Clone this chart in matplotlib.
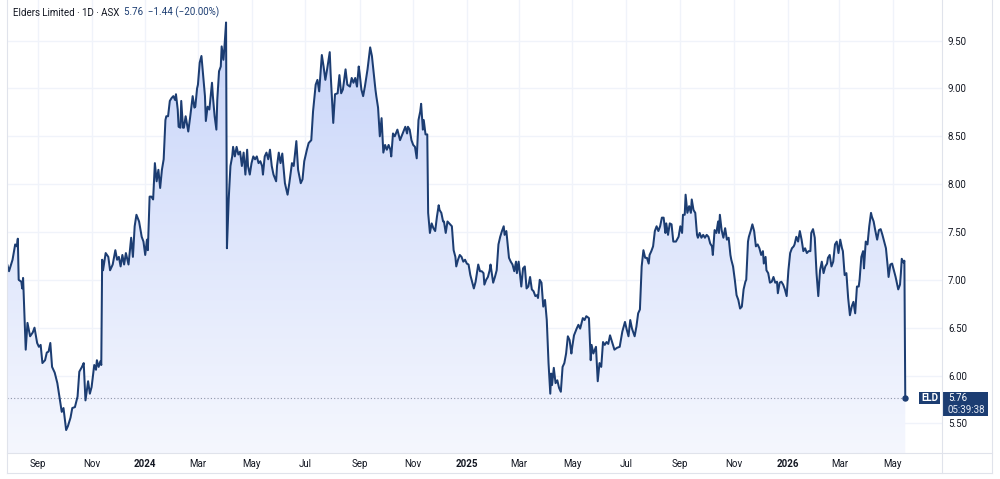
import numpy as np
import pandas as pd
import matplotlib
matplotlib.use("Agg")
import matplotlib.pyplot as plt
import matplotlib.dates as mdates
from matplotlib.patches import Polygon, Rectangle
from matplotlib.lines import Line2D
from matplotlib.colors import LinearSegmentedColormap

plt.rcParams['font.family'] = ['Roboto', 'DejaVu Sans']

# ---------------- data ----------------
start_date = '2023-09-01'
day_offsets = [
    -35, -33, -29, -26, -24, -23, -22, -19, -18, -17,
    -14, -12, -9, -6, -4, -1, 1, 3, 5, 8,
    10, 12, 14, 16, 19, 22, 25, 27, 29, 32,
    34, 37, 39, 42, 45, 47, 50, 52, 54, 57,
    59, 61, 64, 66, 67, 69, 71, 72, 73, 74,
    77, 80, 82, 85, 88, 90, 92, 94, 96, 98,
    100, 103, 106, 108, 110, 112, 115, 118, 120, 122,
    124, 125, 127, 129, 131, 133, 135, 137, 139, 141,
    143, 145, 146, 148, 150, 152, 154, 156, 157, 159,
    160, 162, 163, 165, 166, 168, 171, 173, 176, 178,
    179, 181, 182, 184, 186, 188, 190, 191, 193, 195,
    198, 199, 201, 203, 204, 206, 208, 209, 211, 212,
    214, 215, 217, 219, 221, 222, 224, 226, 228, 230,
    232, 234, 236, 238, 239, 241, 243, 245, 247, 249,
    251, 253, 255, 256, 258, 260, 262, 264, 266, 268,
    271, 272, 274, 276, 278, 281, 284, 286, 289, 291,
    294, 296, 299, 301, 303, 306, 308, 311, 313, 316,
    318, 320, 323, 325, 327, 329, 332, 333, 336, 338,
    341, 343, 345, 347, 350, 352, 355, 357, 359, 361,
    363, 365, 366, 368, 370, 372, 375, 378, 380, 382,
    384, 385, 387, 389, 391, 393, 395, 397, 399, 401,
    402, 404, 406, 409, 412, 415, 418, 420, 421, 423,
    425, 427, 429, 431, 433, 435, 436, 438, 439, 441,
    443, 444, 446, 448, 450, 452, 454, 456, 457, 459,
    461, 462, 464, 466, 469, 471, 473, 475, 476, 478,
    480, 482, 484, 486, 488, 490, 492, 494, 496, 498,
    501, 503, 505, 507, 508, 510, 512, 514, 515, 517,
    518, 520, 522, 524, 526, 528, 530, 531, 533, 534,
    536, 538, 540, 542, 544, 545, 547, 549, 550, 552,
    554, 556, 558, 560, 562, 564, 566, 568, 569, 571,
    573, 575, 577, 579, 581, 583, 584, 585, 587, 589,
    591, 593, 595, 597, 599, 601, 603, 605, 607, 608,
    610, 613, 615, 617, 620, 622, 624, 627, 629, 630,
    632, 635, 637, 639, 641, 643, 645, 647, 649, 651,
    654, 656, 659, 662, 665, 668, 670, 672, 674, 676,
    679, 681, 683, 685, 687, 689, 691, 693, 695, 696,
    698, 700, 702, 704, 706, 708, 710, 712, 714, 715,
    717, 719, 721, 723, 726, 729, 731, 733, 734, 736,
    737, 739, 741, 743, 744, 746, 748, 750, 751, 753,
    755, 757, 759, 761, 763, 765, 767, 768, 770, 772,
    774, 775, 776, 778, 780, 782, 784, 786, 788, 789,
    791, 793, 795, 797, 799, 801, 803, 805, 806, 808,
    809, 811, 813, 815, 817, 819, 821, 823, 825, 826,
    828, 829, 831, 833, 835, 837, 839, 841, 842, 844,
    846, 848, 850, 852, 854, 856, 858, 860, 861, 863,
    865, 867, 869, 871, 873, 875, 877, 879, 880, 882,
    884, 886, 888, 890, 892, 894, 896, 898, 899, 901,
    903, 905, 907, 909, 911, 913, 915, 916, 918, 920,
    922, 924, 926, 928, 930, 932, 934, 935, 937, 939,
    940, 942, 944, 946, 948, 949, 951, 953, 955, 957,
    959, 961, 963, 965, 967, 968, 970, 972, 974, 976,
    979, 981, 982, 983, 985, 986, 987,
]
close_prices = [
    7.16, 7.09, 7.21, 7.37, 7.35, 7.43, 7.00, 6.98, 6.91, 7.02,
    6.27, 6.55, 6.41, 6.45, 6.50, 6.34, 6.30, 6.32, 6.13, 6.16,
    6.24, 6.25, 6.34, 6.09, 6.03, 5.92, 5.74, 5.62, 5.66, 5.43,
    5.47, 5.56, 5.66, 5.67, 5.78, 6.04, 6.09, 6.13, 5.74, 5.94,
    5.81, 5.88, 6.11, 6.06, 6.16, 6.09, 6.15, 6.11, 7.21, 7.10,
    7.28, 7.24, 7.10, 7.16, 7.31, 7.21, 7.24, 7.14, 7.26, 7.16,
    7.28, 7.16, 7.44, 7.24, 7.56, 7.68, 7.61, 7.45, 7.40, 7.26,
    7.42, 7.31, 7.87, 7.87, 7.84, 8.22, 8.03, 8.15, 7.96, 8.15,
    8.26, 8.67, 8.71, 8.71, 8.87, 8.90, 8.92, 8.88, 8.94, 8.78,
    8.60, 8.59, 8.87, 8.59, 8.59, 8.71, 8.55, 8.69, 8.92, 8.80,
    8.81, 9.00, 9.04, 9.27, 9.34, 9.13, 8.92, 8.66, 8.81, 8.78,
    9.06, 8.92, 8.71, 8.57, 8.88, 9.18, 9.23, 9.44, 9.30, 9.41,
    9.69, 7.33, 7.84, 8.19, 8.29, 8.39, 8.29, 8.39, 8.31, 8.34,
    8.19, 8.33, 8.10, 8.36, 8.19, 8.10, 8.22, 8.29, 8.26, 8.29,
    8.22, 8.24, 8.19, 8.10, 8.29, 8.33, 8.26, 8.36, 8.19, 8.10,
    8.03, 8.19, 8.33, 8.22, 8.32, 8.01, 7.89, 8.01, 8.22, 8.19,
    8.45, 8.15, 8.01, 8.05, 8.24, 8.36, 8.43, 8.46, 8.76, 9.04,
    9.09, 8.97, 9.35, 9.23, 9.09, 9.20, 9.38, 9.16, 8.64, 8.94,
    8.95, 9.14, 8.95, 8.99, 9.20, 9.04, 9.02, 9.11, 9.06, 9.11,
    9.02, 9.23, 9.16, 8.99, 8.92, 9.02, 9.20, 9.43, 9.34, 9.16,
    8.99, 8.92, 8.80, 8.50, 8.69, 8.33, 8.41, 8.36, 8.41, 8.36,
    8.29, 8.53, 8.50, 8.57, 8.46, 8.53, 8.60, 8.53, 8.60, 8.57,
    8.46, 8.41, 8.39, 8.27, 8.67, 8.76, 8.84, 8.57, 8.67, 8.52,
    8.52, 7.70, 7.49, 7.59, 7.54, 7.51, 7.66, 7.78, 7.73, 7.70,
    7.61, 7.61, 7.49, 7.61, 7.58, 7.56, 7.31, 7.24, 7.14, 7.21,
    7.26, 7.24, 7.19, 7.21, 7.17, 7.16, 7.05, 6.98, 6.91, 6.98,
    7.16, 7.09, 7.09, 7.07, 6.95, 7.00, 7.03, 7.10, 7.16, 7.03,
    6.97, 7.03, 7.10, 7.37, 7.45, 7.51, 7.56, 7.47, 7.51, 7.42,
    7.23, 7.19, 7.16, 7.09, 7.19, 7.07, 7.19, 7.02, 6.93, 7.12,
    7.14, 6.91, 6.93, 7.03, 6.90, 6.88, 6.83, 6.84, 6.81, 7.00,
    6.97, 6.72, 6.79, 6.58, 6.13, 5.81, 6.02, 5.90, 6.08, 5.92,
    5.95, 5.87, 5.83, 6.09, 6.13, 6.23, 6.41, 6.37, 6.23, 6.30,
    6.42, 6.49, 6.53, 6.49, 6.60, 6.58, 6.62, 6.60, 6.16, 6.32,
    6.23, 6.30, 5.94, 6.13, 6.09, 6.35, 6.32, 6.35, 6.33, 6.42,
    6.33, 6.27, 6.29, 6.30, 6.46, 6.56, 6.48, 6.41, 6.58, 6.49,
    6.41, 6.51, 6.65, 6.69, 7.14, 7.31, 7.23, 7.23, 7.17, 7.26,
    7.30, 7.35, 7.51, 7.56, 7.51, 7.56, 7.65, 7.65, 7.49, 7.59,
    7.47, 7.59, 7.58, 7.40, 7.40, 7.45, 7.56, 7.49, 7.68, 7.68,
    7.89, 7.70, 7.77, 7.70, 7.84, 7.73, 7.70, 7.47, 7.44, 7.49,
    7.44, 7.47, 7.44, 7.47, 7.45, 7.38, 7.35, 7.26, 7.52, 7.49,
    7.61, 7.49, 7.68, 7.52, 7.44, 7.54, 7.42, 7.44, 7.26, 7.21,
    7.14, 7.00, 6.84, 6.79, 6.70, 6.72, 6.90, 6.98, 7.00, 7.40,
    7.45, 7.51, 7.58, 7.51, 7.35, 7.37, 7.33, 7.26, 7.30, 7.17,
    7.24, 7.10, 7.07, 6.97, 6.98, 7.03, 6.97, 6.98, 6.86, 6.97,
    6.98, 6.95, 6.90, 6.83, 7.10, 7.28, 7.33, 7.35, 7.37, 7.45,
    7.40, 7.51, 7.42, 7.30, 7.33, 7.28, 7.30, 7.30, 7.49, 7.53,
    7.44, 7.07, 6.83, 7.10, 7.19, 7.07, 7.14, 7.17, 7.23, 7.26,
    7.14, 7.19, 7.37, 7.40, 7.28, 7.42, 7.33, 7.30, 7.05, 7.07,
    6.81, 6.63, 6.72, 6.77, 6.65, 6.93, 6.93, 7.00, 7.24, 7.30,
    7.12, 7.40, 7.37, 7.56, 7.70, 7.66, 7.61, 7.51, 7.42, 7.52,
    7.53, 7.47, 7.40, 7.33, 7.14, 7.03, 7.16, 7.17, 7.10, 7.03,
    6.90, 6.95, 7.07, 7.22, 7.18, 7.20, 5.76,
]
assert len(day_offsets) == len(close_prices)

tick_dates = ['2023-09-01', '2023-11-01', '2024-01-01', '2024-03-01', '2024-05-01',
              '2024-07-01', '2024-09-01', '2024-11-01', '2025-01-01', '2025-03-01',
              '2025-05-01', '2025-07-01', '2025-09-01', '2025-11-01', '2026-01-01',
              '2026-03-01', '2026-05-01']
tick_labels = ['Sep', 'Nov', '2024', 'Mar', 'May', 'Jul', 'Sep', 'Nov', '2025',
               'Mar', 'May', 'Jul', 'Sep', 'Nov', '2026', 'Mar', 'May']
price_ticks = [5.50, 6.00, 6.50, 7.00, 7.50, 8.00, 8.50, 9.00, 9.50]

title_text = 'Elders Limited \u00b7 1D \u00b7 ASX'
symbol = 'ELD'
price_change = -1.44
price_change_pct = -20.00
countdown = '05:39:38'

# ---------------- style ----------------
line_color = '#1c3d72'
text_dark = '#131722'
grid_color = '#f0f3fa'
border_color = '#e0e3eb'
fill_top = '#c8d5f9'
fill_bottom = '#f5f7fe'

W, H = 1000, 479
def fx(px):
    return px / W
def fy(py):
    return 1 - py / H

dates = pd.Timestamp(start_date) + pd.to_timedelta(day_offsets, unit='D')
xs = mdates.date2num(dates.to_pydatetime())
prices = np.array(close_prices)
last_price = prices[-1]

fig = plt.figure(figsize=(W / 100, H / 100), dpi=100)
fig.patch.set_facecolor('white')
ax = fig.add_axes([fx(7), fy(453), fx(942) - fx(7), fy(0) - fy(453)])

x_left = mdates.date2num(pd.Timestamp(start_date) - pd.Timedelta(days=35.3))
x_right = mdates.date2num(pd.Timestamp(start_date) + pd.Timedelta(days=1028.8))
y_low, y_high = 5.19, 9.925

# gradient area fill
verts = np.column_stack([np.r_[xs[0], xs, xs[-1]], np.r_[y_low, prices, y_low]])
poly = Polygon(verts, closed=True, facecolor='none', edgecolor='none')
ax.add_patch(poly)
cmap = LinearSegmentedColormap.from_list('area', [fill_bottom, fill_top])
grad = np.linspace(0, 1, 256).reshape(-1, 1)
im = ax.imshow(grad, extent=[xs[0], xs[-1], y_low, prices.max()], origin='lower',
               aspect='auto', cmap=cmap, interpolation='bilinear', zorder=1)
im.set_clip_path(poly)

ax.plot(xs, prices, color=line_color, lw=1.45, zorder=3,
        solid_joinstyle='round', solid_capstyle='round')
ax.hlines(last_price, x_left, xs[-1], colors='#8c95a8', linestyles=(0, (1, 2)),
          lw=0.8, zorder=2)
ax.plot([xs[-1]], [last_price], 'o', ms=3.6, color=line_color, zorder=4)

ax.set_xlim(x_left, x_right)
ax.set_ylim(y_low, y_high)

tick_nums = mdates.date2num(pd.to_datetime(tick_dates).to_pydatetime())
ax.set_xticks(tick_nums)
ax.set_xticklabels(tick_labels)
for lbl, txt in zip(ax.get_xticklabels(), tick_labels):
    if txt.isdigit():
        lbl.set_fontweight('bold')
ax.tick_params(axis='x', length=0, pad=4.6, labelsize=7, labelcolor=text_dark)

ax.yaxis.tick_right()
ax.set_yticks(price_ticks)
ax.set_yticklabels([f'{v:.2f}' for v in price_ticks])
ax.tick_params(axis='y', length=0, pad=4.3, labelsize=7, labelcolor=text_dark)

for s in ax.spines.values():
    s.set_visible(False)
ax.grid(True, color=grid_color, lw=1.0, zorder=0)
ax.set_axisbelow(True)

# frame / separators
for (x0, y0, x1, y1) in [(942, 0, 942, 473), (7, 453, 992, 453), (7, 0, 7, 473),
                         (7, 473, 992, 473), (992, 0, 992, 473)]:
    fig.add_artist(Line2D([fx(x0), fx(x1)], [fy(y0), fy(y1)], transform=fig.transFigure,
                          color=border_color, lw=0.8))

# last price labels
fig.canvas.draw()
renderer = fig.canvas.get_renderer()
_, y_disp = ax.transData.transform((xs[-1], last_price))
yt = H - y_disp
fig.add_artist(Rectangle((fx(919), fy(yt + 6)), (940 - 919) / W, 12 / H,
                         transform=fig.transFigure, facecolor=line_color, edgecolor='none'))
fig.text(fx(929.5), fy(yt), symbol, color='white', fontsize=7, fontweight='bold',
         ha='center', va='center')
fig.add_artist(Rectangle((fx(942), fy(yt + 18)), 46 / W, 24 / H,
                         transform=fig.transFigure, facecolor=line_color, edgecolor='none'))
fig.text(fx(948), fy(yt), f'{last_price:.2f}', color='white', fontsize=7,
         ha='left', va='center')
fig.text(fx(947.5), fy(yt + 11.5), countdown, color='#e6ebf5', fontsize=7,
         ha='left', va='center')

# title
t1 = fig.text(fx(13), fy(12.5), title_text, fontsize=7, color=text_dark,
              ha='left', va='center')
bb = t1.get_window_extent(renderer)
value_text = (f'{last_price:.2f}  \u2212{abs(price_change):.2f} '
              f'(\u2212{abs(price_change_pct):.2f}%)')
fig.text((bb.x1 + 5) / W, fy(12.5), value_text, fontsize=7, color=line_color,
         ha='left', va='center')

fig.savefig('out.png', dpi=100, facecolor='white')
